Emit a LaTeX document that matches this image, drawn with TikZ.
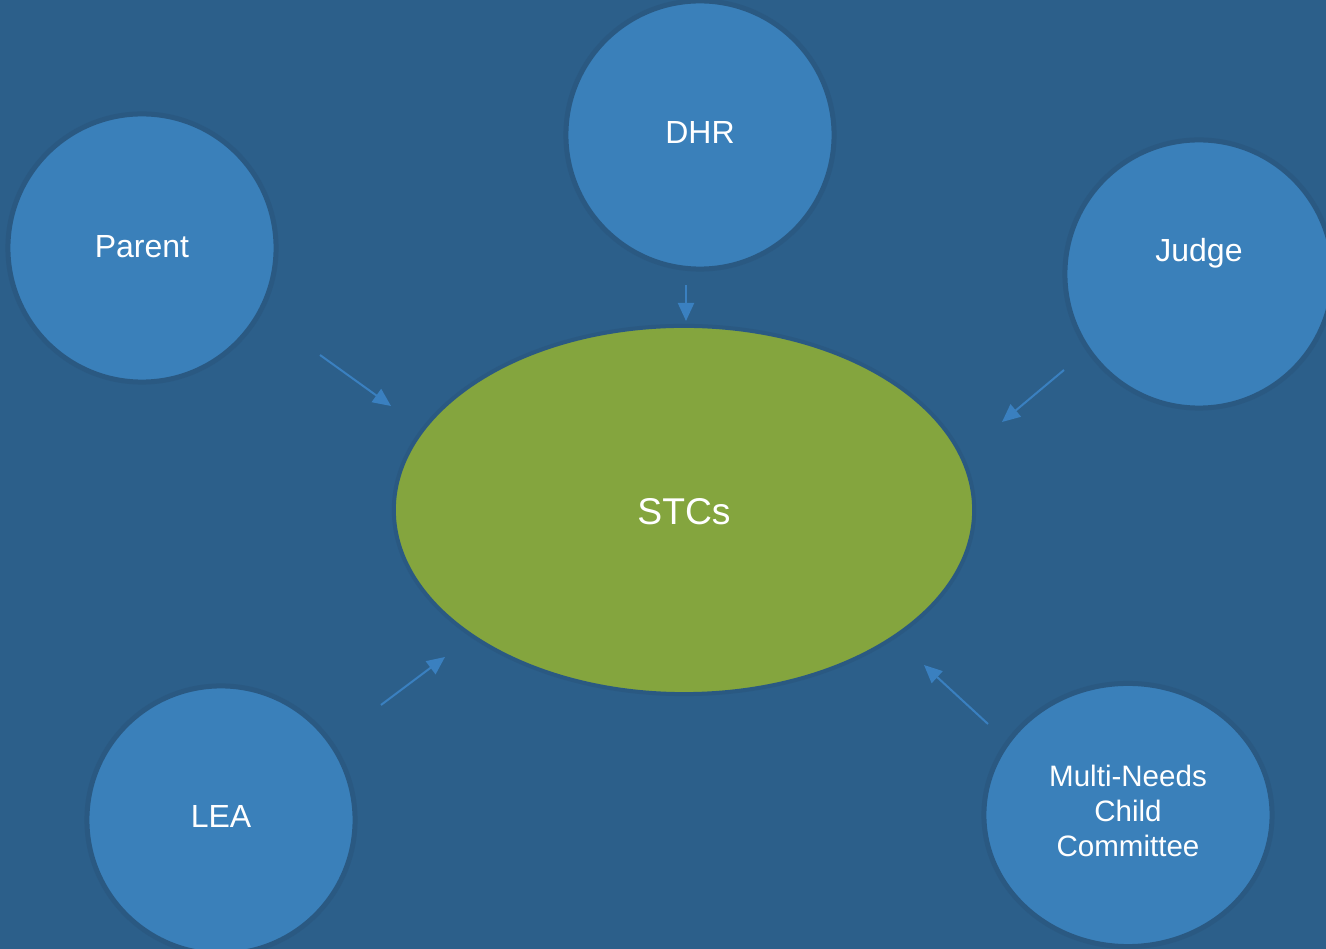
\documentclass[tikz,border=0pt]{standalone}
\usepackage{fontspec}
\setmainfont{Liberation Sans}
\usetikzlibrary{arrows.meta,shapes.geometric}
\definecolor{bgblue}{RGB}{44,95,138}
\definecolor{ringblue}{RGB}{42,89,130}
\definecolor{bubbleblue}{RGB}{58,128,186}
\definecolor{stcgreen}{RGB}{132,165,62}
\definecolor{arrowblue}{RGB}{58,128,192}
\tikzset{
  bubble/.style={circle, fill=bubbleblue, draw=ringblue, line width=0.05cm, minimum size=2.68cm, inner sep=0pt},
  ovalbubble/.style={ellipse, fill=bubbleblue, draw=ringblue, line width=0.05cm, minimum width=2.88cm, minimum height=2.63cm, inner sep=0pt},
  centre/.style={ellipse, fill=stcgreen, draw=ringblue, line width=0.04cm, minimum width=5.8cm, minimum height=3.68cm, inner sep=0pt},
  lbl/.style={text=white, font=\fontsize{9.1pt}{11pt}\selectfont},
  flow/.style={draw=arrowblue, line width=0.02cm, -{Triangle[length=0.18cm,width=0.16cm]}}
}
\begin{document}
\begin{tikzpicture}[x=0.01cm,y=-0.01cm]
\useasboundingbox (0,0) rectangle (1326,949);
\clip (0,0) rectangle (1326,949);
\fill[bgblue] (0,0) rectangle (1326,949);

\node[bubble] (dhr) at (700,135) {};
\node[lbl] (dhrt) at (700,132) {DHR};
\node[bubble] (parent) at (142,248) {};
\node[lbl] (parentt) at (142,247) {Parent};
\node[bubble] (judge) at (1199,274) {};
\node[lbl] (judget) at (1199,253) {Judge};
\node[bubble] (lea) at (221,820) {};
\node[lbl] (leat) at (221,816) {LEA};
\node[ovalbubble] (mncc) at (1128,815) {};
\node[lbl, align=center, font=\fontsize{8.4pt}{9.9pt}\selectfont] (mncct) at (1128,811) {Multi-Needs\\Child\\Committee};

\node[centre] (stc) at (684,510) {};
\node[text=white, font=\fontsize{10.6pt}{12.5pt}\selectfont] (stct) at (684,512) {STCs};

\coordinate (p1) at (320,355); \coordinate (p2) at (391,406);
\coordinate (d1) at (686,285); \coordinate (d2) at (686,321);
\coordinate (j1) at (1064,370); \coordinate (j2) at (1002,422);
\coordinate (l1) at (381,705); \coordinate (l2) at (445,657);
\coordinate (m1) at (988,724); \coordinate (m2) at (924,665);

\draw[flow] (p1) -- (p2);
\draw[flow] (d1) -- (d2);
\draw[flow] (j1) -- (j2);
\draw[flow] (l1) -- (l2);
\draw[flow] (m1) -- (m2);
\end{tikzpicture}
\end{document}
